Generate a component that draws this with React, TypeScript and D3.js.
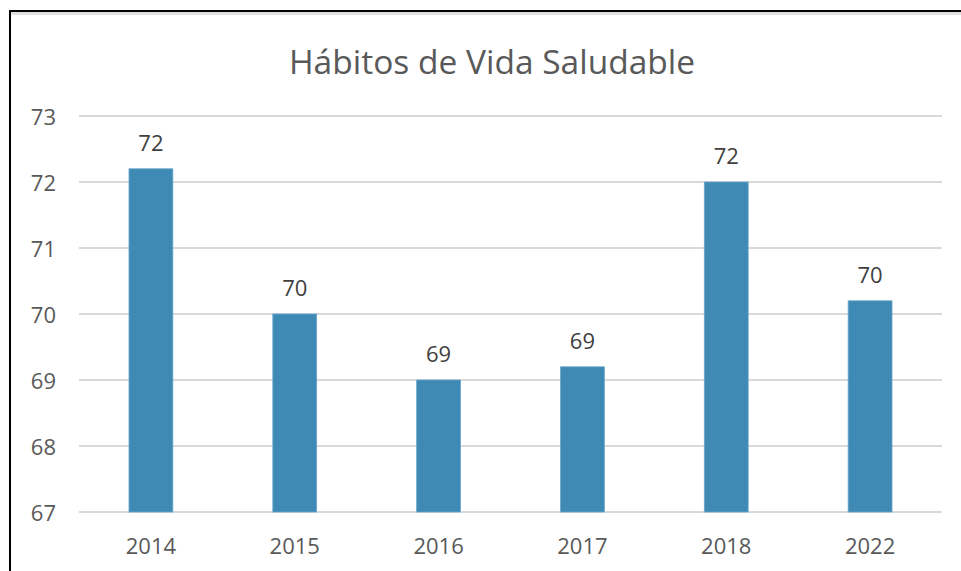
import React from "react";
import * as d3 from "d3";

const categories = ["2014", "2015", "2016", "2017", "2018", "2022"];
const values = [72.2, 70.0, 69.0, 69.2, 72.0, 70.2];
const yTicks = [67, 68, 69, 70, 71, 72, 73];
const title = "Hábitos de Vida Saludable";

const W = 961;
const H = 571;
const FONT = "'Open Sans', 'Noto Sans', sans-serif";

export default function App() {
  const left = 79;
  const right = 942;
  const top = 116;
  const bottom = 512;
  const x = d3.scaleBand<string>().domain(categories).range([left, right]).paddingInner(0.695).paddingOuter(0.3475);
  const y = d3.scaleLinear().domain([67, 73]).range([bottom, top]);

  return (
    <svg width={W} height={H} style={{ position: "absolute", left: 0, top: 0, background: "#fff" }}>
      <rect x={0} y={0} width={W} height={H} fill="#fff" />
      {/* frame */}
      <line x1={11} y1={13.5} x2={W} y2={13.5} stroke="#e0e0e0" strokeWidth={3} />
      <line x1={10} y1={11} x2={W} y2={11} stroke="#000" strokeWidth={2} />
      <line x1={10} y1={10} x2={10} y2={H} stroke="#000" strokeWidth={2} />
      <text x={492} y={61} textAnchor="middle" dominantBaseline="central" fontFamily={FONT} fontSize={33.5} fill="#595959">
        {title}
      </text>
      {yTicks.map((t) => (
        <g key={t}>
          <line x1={left} x2={right} y1={y(t)} y2={y(t)} stroke="#d9d9d9" strokeWidth={2} />
          <text x={56} y={y(t)} textAnchor="end" dominantBaseline="central" fontFamily={FONT} fontSize={22} fill="#595959">
            {t}
          </text>
        </g>
      ))}
      {categories.map((c, i) => (
        <g key={c}>
          <rect x={x(c)} y={y(values[i])} width={x.bandwidth()} height={y(67) - y(values[i])} fill="#3f89b5" stroke="#6aa6cc" strokeWidth={0.8} />
          <text x={(x(c) as number) + x.bandwidth() / 2} y={y(values[i]) - 27} textAnchor="middle" dominantBaseline="central" fontFamily={FONT} fontSize={22} fill="#404040">
            {Math.round(values[i])}
          </text>
          <text x={(x(c) as number) + x.bandwidth() / 2} y={545} textAnchor="middle" dominantBaseline="central" fontFamily={FONT} fontSize={22} fill="#595959">
            {c}
          </text>
        </g>
      ))}
    </svg>
  );
}
